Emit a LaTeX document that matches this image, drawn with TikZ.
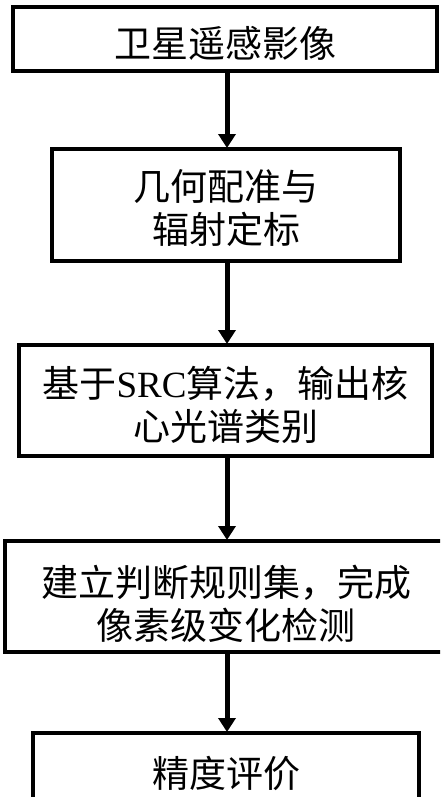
\documentclass[tikz,border=0pt]{standalone}
\usepackage{fontspec}
\setmainfont{Liberation Serif}
\newfontfamily\cjk{Noto Sans CJK SC}
\usetikzlibrary{arrows.meta}
\begin{document}
\begin{tikzpicture}[x=1pt,y=-1pt,
  flowbox/.style={draw=black,line width=4pt,fill=white,rectangle,inner sep=0pt},
  flowtext/.style={inner sep=0pt,align=center,font=\fontsize{37}{43}\selectfont\cjk},
  flowarrow/.style={line width=5pt,-{Triangle[length=14pt,width=17pt]},shorten >=-1pt}]
\useasboundingbox (0,0) rectangle (440,797);
\clip (0,0) rectangle (440,797);
\node[flowbox,minimum width=424pt,minimum height=64pt] (b1) at (225,39) {};
\node[flowbox,minimum width=348pt,minimum height=112pt] (b2) at (226,205) {};
\node[flowbox,minimum width=413pt,minimum height=111pt] (b3) at (225.5,400.5) {};
\node[flowbox,minimum width=442pt,minimum height=111pt] (b4) at (226,596.5) {};
\node[flowbox,minimum width=386pt,minimum height=68pt] (b5) at (226,767) {};
\node[flowtext] (t1) at ([yshift=-4pt]b1.center) {卫星遥感影像};
\node[flowtext] (t2) at ([yshift=-3pt]b2.center) {几何配准与\\辐射定标};
\node[flowtext] (t3) at ([yshift=-4pt]b3.center) {基于{\rmfamily SRC}算法，输出核\\心光谱类别};
\node[flowtext] (t4) at ([yshift=-7pt]b4.center) {建立判断规则集，完成\\像素级变化检测};
\node[flowtext] (t5) at ([yshift=-6pt]b5.center) {精度评价};
\draw[flowarrow] (b1.south -| 227,0) -- (b2.north -| 227,0);
\draw[flowarrow] (b2.south -| 227,0) -- (b3.north -| 227,0);
\draw[flowarrow] (b3.south -| 227,0) -- (b4.north -| 227,0);
\draw[flowarrow] (b4.south -| 227,0) -- (b5.north -| 227,0);
\end{tikzpicture}
\end{document}
